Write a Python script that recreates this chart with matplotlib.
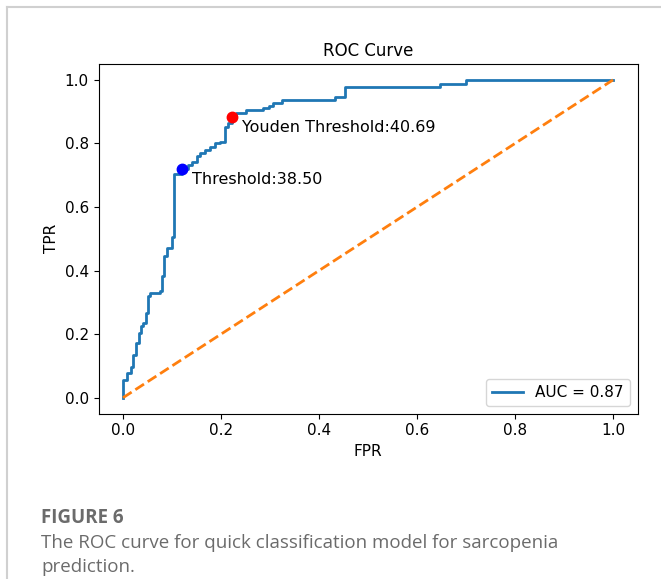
import numpy as np
import matplotlib.pyplot as plt
from matplotlib.lines import Line2D

# ROC curve corners (vertical step at fpr, up to tpr)
fpr = [0.0, 0.0, 0.009, 0.016, 0.021, 0.026, 0.032, 0.036, 0.041, 0.046,
       0.050, 0.055, 0.076, 0.080, 0.084, 0.090, 0.100, 0.105, 0.120, 0.133,
       0.140, 0.150, 0.157, 0.167, 0.178, 0.188, 0.198, 0.208, 0.215, 0.223,
       0.230, 0.252, 0.286, 0.297, 0.307, 0.324, 0.433, 0.453, 0.647, 0.701,
       1.0]
tpr = [0.0, 0.056, 0.079, 0.098, 0.134, 0.171, 0.203, 0.226, 0.234, 0.266,
       0.320, 0.329, 0.337, 0.383, 0.446, 0.470, 0.507, 0.703, 0.719, 0.732,
       0.743, 0.759, 0.769, 0.780, 0.790, 0.801, 0.806, 0.853, 0.864, 0.883,
       0.897, 0.906, 0.911, 0.918, 0.927, 0.937, 0.946, 0.977, 0.987, 1.0,
       1.0]
auc = 0.87

thr_point = (0.120, 0.719)
thr_value = 38.50
youden_point = (0.223, 0.883)
youden_value = 40.69

fig = plt.figure(figsize=(6.61, 5.79), dpi=100)
W, H = 661, 579

# axes placed in pixel coords of the reference
ax = fig.add_axes([98.5 / W, 1 - 413.6 / H, 539 / W, 349.6 / H])

ax.plot(fpr, tpr, color='tab:blue', lw=2, drawstyle='steps-post',
        label='AUC = %.2f' % auc)
ax.plot([0, 1], [0, 1], color='tab:orange', lw=2, ls='--')

ax.plot(*thr_point, 'o', color='blue', ms=7.5)
ax.annotate('Threshold:%.2f' % thr_value, thr_point, xytext=(7, -7.5),
            textcoords='offset points', ha='left', va='center', fontsize=11.5)
ax.plot(*youden_point, 'o', color='red', ms=7.5)
ax.annotate('Youden Threshold:%.2f' % youden_value, youden_point, xytext=(7, -7.5),
            textcoords='offset points', ha='left', va='center', fontsize=11.5)

ax.set_xlim(-0.05, 1.05)
ax.set_ylim(-0.05, 1.05)
ax.set_xticks(np.arange(0, 1.01, 0.2))
ax.set_yticks(np.arange(0, 1.01, 0.2))
ax.tick_params(labelsize=11)
ax.set_xlabel('FPR', fontsize=11)
ax.set_ylabel('TPR', fontsize=11)
ax.set_title('ROC Curve', fontsize=12)
ax.legend(loc='lower right', fontsize=11)

# caption
cap = '#6b6b6b'
fig.text(41 / W, 1 - 518 / H, 'FIGURE 6', fontsize=13.5, fontweight='bold',
         color=cap, family='Open Sans', va='center')
fig.text(41 / W, 1 - 543 / H,
         'The ROC curve for quick classification model for sarcopenia',
         fontsize=13.5, color=cap, family='Open Sans', va='center')
fig.text(41 / W, 1 - 567 / H, 'prediction.', fontsize=13.5, color=cap,
         family='Open Sans', va='center')

# panel frame lines
fig.add_artist(Line2D([7 / W, 1], [1 - 7 / H, 1 - 7 / H], color='#d0d0d0', lw=1.5))
fig.add_artist(Line2D([7 / W, 7 / W], [0, 1 - 7 / H], color='#d0d0d0', lw=1.5))

plt.savefig('out.png', dpi=100)
